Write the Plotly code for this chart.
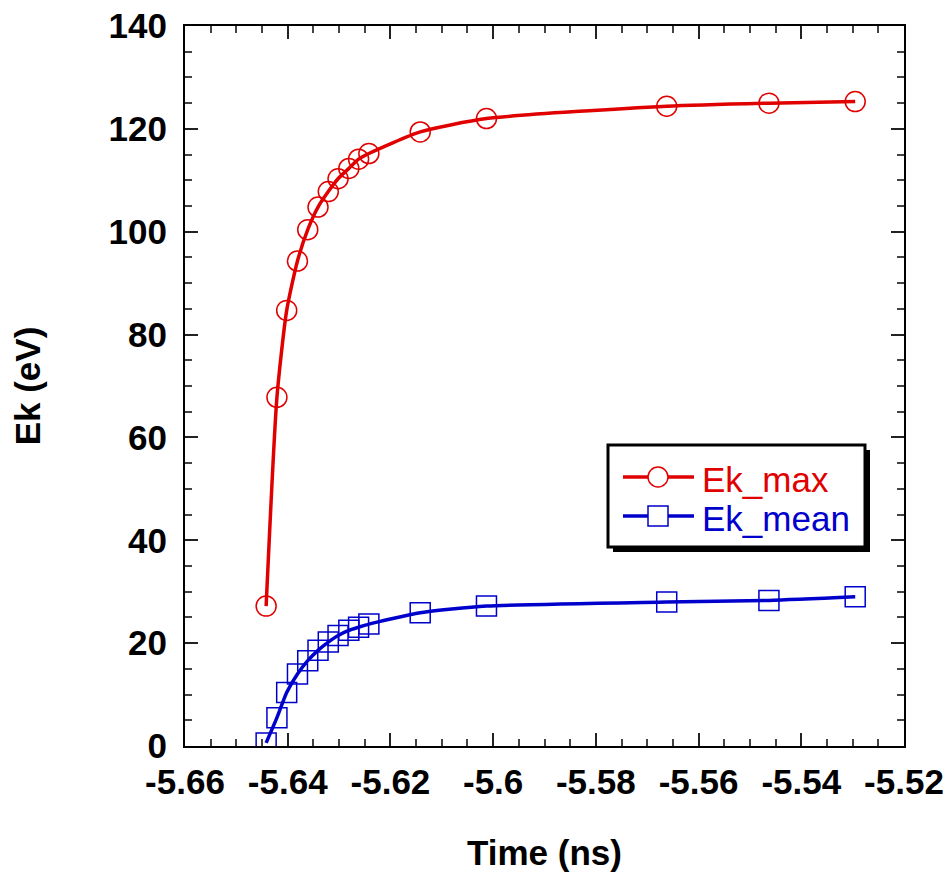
import plotly.graph_objects as go

# Time stamps (ns) of the sampled points
time_ns = [-5.6442, -5.6421, -5.6402, -5.6381, -5.6361, -5.6341, -5.6321, -5.6302,
           -5.6281, -5.6262, -5.6242, -5.6142, -5.6013, -5.5662, -5.5463, -5.5295]

# Kinetic energies (eV)
ek_max = [27.2, 67.8, 84.7, 94.3, 100.4, 104.8, 107.8, 110.3,
          112.3, 114.1, 115.2, 119.4, 122.0, 124.4, 125.0, 125.3]
ek_mean = [0.6, 5.5, 10.4, 14.0, 16.6, 18.6, 20.2, 21.5,
           22.5, 23.1, 23.7, 25.9, 27.2, 28.0, 28.3, 29.0]

x_ticks = [-5.66, -5.64, -5.62, -5.6, -5.58, -5.56, -5.54, -5.52]
x_tick_text = ["-5.66", "-5.64", "-5.62", "-5.6", "-5.58", "-5.56", "-5.54", "-5.52"]
y_ticks = [0, 20, 40, 60, 80, 100, 120, 140]

RED = "#E00000"
BLUE = "#0000CC"
FONT = "Liberation Sans, Arial, sans-serif"

W, H = 950, 876
L, R, T, B = 185, 46, 26, 130

fig = go.Figure()
fig.add_trace(go.Scatter(
    x=time_ns, y=ek_max, mode="lines+markers", name="Ek_max",
    line=dict(color=RED, width=3.5, shape="spline", smoothing=0.6),
    marker=dict(symbol="circle-open", size=20, color=RED, line=dict(width=1.5, color=RED)),
    showlegend=False,
))
fig.add_trace(go.Scatter(
    x=time_ns, y=ek_mean, mode="lines+markers", name="Ek_mean",
    line=dict(color=BLUE, width=3.5, shape="spline", smoothing=0.6),
    marker=dict(symbol="square-open", size=20, color=BLUE, line=dict(width=1.5, color=BLUE)),
    showlegend=False,
))

axis_common = dict(
    showline=True, linecolor="black", linewidth=2, mirror="ticks",
    ticks="inside", ticklen=13, tickwidth=1.5, tickcolor="#222",
    showgrid=False, zeroline=False, automargin=False,
    tickfont=dict(family=FONT, size=35, color="black", weight="bold"),
)
title_font = dict(family=FONT, size=35, color="black", weight="bold")

fig.update_xaxes(
    range=[-5.66, -5.52], tickvals=x_ticks, ticktext=x_tick_text,
    minor=dict(dtick=0.005, tick0=-5.66, ticks="inside", ticklen=7, tickwidth=1.5, tickcolor="#444"),
    title=dict(text="Time (ns)", font=title_font, standoff=40),
    ticklabelstandoff=4,
    **axis_common,
)
fig.update_yaxes(
    range=[0, 140], tickvals=y_ticks,
    minor=dict(dtick=5, tick0=0, ticks="inside", ticklen=7, tickwidth=1.5, tickcolor="#444"),
    title=dict(text="Ek (eV)", font=title_font, standoff=57),
    ticklabelstandoff=9,
    **axis_common,
)

pw, ph = W - L - R, H - T - B


def px(x):
    return (x - L) / pw


def py(y):
    return (H - B - y) / ph


# Legend drawn as shapes: drop shadow, framed box, line samples and markers
shapes = [
    dict(type="rect", xref="paper", yref="paper", x0=px(613), x1=px(870), y0=py(552), y1=py(450),
         fillcolor="black", line=dict(width=0), layer="above"),
    dict(type="rect", xref="paper", yref="paper", x0=px(608), x1=px(865), y0=py(547), y1=py(445),
         fillcolor="white", line=dict(color="black", width=3), layer="above"),
    dict(type="line", xref="paper", yref="paper", x0=px(623), x1=px(694), y0=py(477), y1=py(477),
         line=dict(color=RED, width=3.5), layer="above"),
    dict(type="circle", xref="paper", yref="paper", x0=px(648), x1=px(668), y0=py(487), y1=py(467),
         fillcolor="white", line=dict(color=RED, width=1.5), layer="above"),
    dict(type="line", xref="paper", yref="paper", x0=px(623), x1=px(694), y0=py(516), y1=py(516),
         line=dict(color=BLUE, width=3.5), layer="above"),
    dict(type="rect", xref="paper", yref="paper", x0=px(648), x1=px(668), y0=py(526), y1=py(506),
         fillcolor="white", line=dict(color=BLUE, width=1.5), layer="above"),
]
annotations = [
    dict(text="Ek_max", xref="paper", yref="paper", x=px(700), y=py(479), xanchor="left", yanchor="middle",
         showarrow=False, font=dict(family=FONT, size=35, color=RED)),
    dict(text="Ek_mean", xref="paper", yref="paper", x=px(700), y=py(518), xanchor="left", yanchor="middle",
         showarrow=False, font=dict(family=FONT, size=35, color=BLUE)),
]

fig.update_layout(
    width=W, height=H,
    margin=dict(l=L, r=R, t=T, b=B),
    paper_bgcolor="white", plot_bgcolor="white",
    shapes=shapes, annotations=annotations,
    showlegend=False,
)

fig.write_html("out.html")
